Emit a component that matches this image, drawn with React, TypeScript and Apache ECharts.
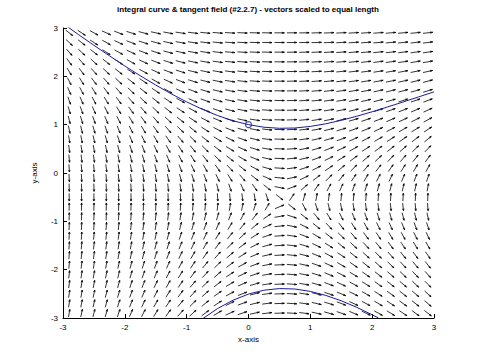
import React, { useEffect, useRef } from "react";
import * as echarts from "echarts";

// centres of the tangent-field cells (x and y from -2.9 to 2.9 in steps of 0.2)
const gridX = [-2.9, -2.7, -2.5, -2.3, -2.1, -1.9, -1.7, -1.5, -1.3, -1.1, -0.9, -0.7, -0.5, -0.3, -0.1, 0.1, 0.3, 0.5, 0.7, 0.9, 1.1, 1.3, 1.5, 1.7, 1.9, 2.1, 2.3, 2.5, 2.7, 2.9];
const gridY = [-2.9, -2.7, -2.5, -2.3, -2.1, -1.9, -1.7, -1.5, -1.3, -1.1, -0.9, -0.7, -0.5, -0.3, -0.1, 0.1, 0.3, 0.5, 0.7, 0.9, 1.1, 1.3, 1.5, 1.7, 1.9, 2.1, 2.3, 2.5, 2.7, 2.9];

// integral curve through (0, 1): upper branch
const curveUpperX = [-3, -2.75, -2.5, -2.25, -2, -1.75, -1.5, -1.25, -1, -0.75, -0.5, -0.25, 0, 0.25, 0.5, 0.75, 1, 1.25, 1.5, 1.75, 2, 2.25, 2.5, 2.75, 3];
const curveUpperY = [3.092, 2.864, 2.642, 2.425, 2.214, 2.012, 1.82, 1.638, 1.471, 1.32, 1.189, 1.081, 1, 0.947, 0.925, 0.931, 0.964, 1.018, 1.09, 1.174, 1.267, 1.367, 1.469, 1.574, 1.679];

// lower branch of the same integral curve
const curveLowerX = [-0.75, -0.5, -0.25, 0, 0.25, 0.5, 0.75, 1, 1.25, 1.5, 1.75, 2, 2.1];
const curveLowerY = [-3.023, -2.804, -2.632, -2.505, -2.425, -2.391, -2.4, -2.45, -2.533, -2.644, -2.779, -2.933, -2.998];

// initial point
const initialPoint = [0, 1];

const xTicks = [-3, -2, -1, 0, 1, 2, 3];
const yTicks = [-3, -2, -1, 0, 1, 2, 3];

const titleText = "integral curve & tangent field (#2.2.7) - vectors scaled to equal length";

// ODE #2.2.7: dy/dx = (x - e^-x) / (y + e^y)
function slope(x: number, y: number): number {
  return (x - Math.exp(-x)) / (y + Math.exp(y));
}

export default function App() {
  const ref = useRef<HTMLDivElement>(null);

  useEffect(() => {
    if (!ref.current) return;
    const chart = echarts.init(ref.current, undefined, { renderer: "svg" });

    const fieldData: number[][] = [];
    for (const x of gridX) {
      for (const y of gridY) {
        fieldData.push([x, y, slope(x, y)]);
      }
    }

    const L = 0.16;
    const alpha = 0.26;
    const beta = 0.3;

    const font = "Liberation Sans";
    const curveColor = "#1a1aa0";

    chart.setOption({
      animation: false,
      backgroundColor: "#fff",
      grid: { left: 63, right: 46, top: 28, bottom: 42, containLabel: false },
      graphic: [
        {
          type: "text",
          x: 248,
          y: 5,
          style: {
            text: titleText,
            fontSize: 8,
            fontWeight: "bold",
            fontFamily: font,
            fill: "#000",
            align: "center",
            verticalAlign: "top",
          },
        },
      ],
      xAxis: {
        type: "value",
        min: -3,
        max: 3,
        interval: 1,
        name: "x-axis",
        nameLocation: "middle",
        nameGap: 17,
        nameTextStyle: { fontSize: 8, fontFamily: font, color: "#000" },
        axisLine: { show: true, onZero: false, lineStyle: { color: "#000", width: 1 } },
        axisTick: { show: true, inside: true, length: 4, lineStyle: { color: "#000" } },
        axisLabel: {
          color: "#000",
          fontSize: 8,
          fontFamily: font,
          margin: 5,
          formatter: (v: number) => (xTicks.includes(v) ? String(v) : ""),
        },
        splitLine: { show: false },
      },
      yAxis: {
        type: "value",
        min: -3,
        max: 3,
        interval: 1,
        name: "y-axis",
        nameLocation: "middle",
        nameGap: 25,
        nameTextStyle: { fontSize: 8, fontFamily: font, color: "#000" },
        axisLine: { show: true, onZero: false, lineStyle: { color: "#000", width: 1 } },
        axisTick: { show: true, inside: true, length: 4, lineStyle: { color: "#000" } },
        axisLabel: {
          color: "#000",
          fontSize: 8,
          fontFamily: font,
          margin: 5,
          formatter: (v: number) => (yTicks.includes(v) ? String(v) : ""),
        },
        splitLine: { show: false },
      },
      series: [
        {
          type: "custom",
          data: fieldData,
          silent: true,
          renderItem: (params: any, api: any) => {
            const x = api.value(0);
            const y = api.value(1);
            const f = api.value(2);
            const u = L / Math.sqrt(1 + f * f);
            const v = f * u;
            const x0 = x - u / 2;
            const y0 = y - v / 2;
            const tail = api.coord([x0, y0]);
            const tip = api.coord([x0 + u, y0 + v]);
            const h1 = api.coord([x0 + u - alpha * (u + beta * v), y0 + v - alpha * (v - beta * u)]);
            const h2 = api.coord([x0 + u - alpha * (u - beta * v), y0 + v - alpha * (v + beta * u)]);
            return {
              type: "group",
              children: [
                {
                  type: "polyline",
                  shape: { points: [tail, tip] },
                  style: { stroke: "#000", lineWidth: 0.8, fill: null },
                },
                {
                  type: "polyline",
                  shape: { points: [h1, tip, h2] },
                  style: { stroke: "#000", lineWidth: 0.8, fill: null },
                },
              ],
            };
          },
        },
        {
          type: "line",
          data: curveUpperX.map((x, i) => [x, curveUpperY[i]]),
          showSymbol: false,
          symbol: "none",
          clip: true,
          lineStyle: { color: curveColor, width: 1 },
        },
        {
          type: "line",
          data: curveLowerX.map((x, i) => [x, curveLowerY[i]]),
          showSymbol: false,
          symbol: "none",
          clip: true,
          lineStyle: { color: curveColor, width: 1 },
        },
        {
          type: "scatter",
          data: [initialPoint],
          symbol: "circle",
          symbolSize: 6,
          itemStyle: { color: "#fff", borderColor: curveColor, borderWidth: 1.2 },
        },
      ],
    });

    return () => chart.dispose();
  }, []);

  return (
    <div
      ref={ref}
      style={{ position: "fixed", left: 0, top: 0, width: 480, height: 360, background: "#fff" }}
    />
  );
}
